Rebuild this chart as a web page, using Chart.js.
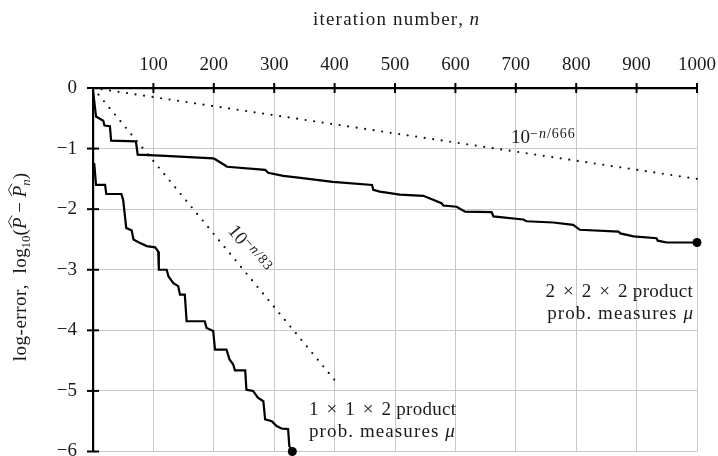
<!DOCTYPE html>
<html>
<head>
<meta charset="utf-8">
<script src="https://cdn.jsdelivr.net/npm/chart.js@4/dist/chart.umd.min.js"></script>
<style>
	html, body { margin: 0; padding: 0; background: #fff; }
	#wrap { width: 718px; height: 456px; position: relative; }
</style>
</head>
<body>
<div id="wrap"><canvas id="chart"></canvas></div>
<script>
// 2 x 2 x 2 product measures
const n222 = [0, 5, 10, 17, 19, 28, 30, 71, 74, 120, 199, 203, 219, 222, 285, 290, 315, 340, 397, 462, 464, 475, 508, 547, 577, 580, 602, 616, 660, 663, 712, 718, 762, 795, 806, 870, 873, 895, 933, 935, 950, 1000];
const err222 = [-0.04, -0.47, -0.50, -0.54, -0.62, -0.63, -0.87, -0.88, -1.10, -1.12, -1.16, -1.18, -1.28, -1.30, -1.35, -1.40, -1.45, -1.48, -1.55, -1.60, -1.68, -1.71, -1.76, -1.78, -1.90, -1.94, -1.96, -2.04, -2.05, -2.12, -2.17, -2.20, -2.22, -2.26, -2.34, -2.37, -2.40, -2.45, -2.48, -2.52, -2.55, -2.55];

// 1 x 1 x 2 product measures
const n112 = [2, 5, 20, 22, 47, 50, 55, 64, 67, 78, 89, 103, 108, 109, 122, 125, 133, 141, 144, 152, 155, 185, 188, 199, 202, 221, 226, 232, 235, 252, 254, 265, 273, 282, 285, 296, 304, 312, 323, 325, 330];
const err112 = [-1.24, -1.60, -1.60, -1.75, -1.75, -1.85, -2.31, -2.35, -2.50, -2.56, -2.61, -2.63, -2.70, -3.00, -3.00, -3.11, -3.22, -3.27, -3.41, -3.41, -3.85, -3.85, -3.96, -4.01, -4.32, -4.32, -4.48, -4.56, -4.66, -4.66, -4.98, -5.00, -5.11, -5.17, -5.47, -5.50, -5.58, -5.62, -5.63, -5.91, -6.00];

// reference rates (dotted)
const nSlow = [0, 1000];
const errSlow = [0, -1.5];
const nFast = [0, 400];
const errFast = [0, -4.82];

const xTicks = [100, 200, 300, 400, 500, 600, 700, 800, 900, 1000];
const yTicks = [0, -1, -2, -3, -4, -5, -6];

const toPoints = (xs, ys) => xs.map((x, i) => ({ x, y: ys[i] }));

const SERIF = '"Liberation Serif", "Times New Roman", serif';
const font = (size, style = '') => `${style} ${size}px ${SERIF}`.trim();

// width of one run, with optional extra letter spacing
const runWidth = (ctx, r) => {
	ctx.font = r.font;
	const ls = r.ls || 0;
	return ctx.measureText(r.t).width + ls * r.t.length;
};

// draw a run of text pieces; returns total width
const drawRuns = (ctx, runs, x, y, measureOnly = false) => {
	let cx = x;
	runs.forEach((r) => {
		const w = runWidth(ctx, r);
		if (!measureOnly) {
			ctx.font = r.font;
			const yy = y + (r.dy || 0);
			if (r.ls) {
				let px = cx;
				[...r.t].forEach((ch) => {
					ctx.fillText(ch, px, yy);
					px += ctx.measureText(ch).width + r.ls;
				});
			} else {
				ctx.fillText(r.t, cx, yy);
			}
			if (r.hat) {
				ctx.save();
				ctx.lineWidth = 0.9;
				ctx.beginPath();
				ctx.moveTo(cx + 1, y - 14);
				ctx.lineTo(cx + w / 2 + 1.5, y - 17.5);
				ctx.lineTo(cx + w + 2, y - 14);
				ctx.stroke();
				ctx.restore();
			}
		}
		cx += w + (r.gap || 0);
	});
	return cx - x;
};

const powerRuns = (exp) => [
	{ t: '10', font: font(19) },
	{ t: '−', font: font(14), dy: -5, gap: 1 },
	{ t: 'n', font: font(14, 'italic'), dy: -5, gap: 1 },
	{ t: '/' + exp, font: font(14), dy: -5, ls: 1 },
];

const productRuns = (a, b, c) => [
	{ t: a, font: font(19), gap: 8 },
	{ t: '×', font: font(19), gap: 8 },
	{ t: b, font: font(19), gap: 8 },
	{ t: '×', font: font(19), gap: 8 },
	{ t: c + ' product', font: font(19), ls: 0.3 },
];

const measureRuns = [
	{ t: 'prob. measures ', font: font(19), ls: 1.1 },
	{ t: 'μ', font: font(19, 'italic') },
];

const annotations = {
	id: 'annotations',
	afterDraw(chart) {
		const { ctx, chartArea, scales } = chart;
		const xs = scales.x;
		const ys = scales.y;
		ctx.save();
		ctx.fillStyle = '#1a1a1a';
		ctx.textBaseline = 'alphabetic';

		// tick marks crossing the axes
		ctx.strokeStyle = '#000';
		ctx.lineWidth = 2;
		xTicks.forEach((v) => {
			const px = xs.getPixelForValue(v);
			ctx.beginPath();
			ctx.moveTo(px, chartArea.top - 5);
			ctx.lineTo(px, chartArea.top + 5);
			ctx.stroke();
		});
		yTicks.forEach((v) => {
			const py = ys.getPixelForValue(v);
			ctx.beginPath();
			ctx.moveTo(chartArea.left - 6, py);
			ctx.lineTo(chartArea.left + 6, py);
			ctx.stroke();
		});
		ctx.strokeStyle = '#1a1a1a';

		// top title
		const titleRuns = [
			{ t: 'iteration number, ', font: font(19), ls: 1.2 },
			{ t: 'n', font: font(19, 'italic') },
		];
		const tw = drawRuns(ctx, titleRuns, 0, 0, true);
		drawRuns(ctx, titleRuns, 396 - tw / 2, 25);

		// y title (rotated)
		const yRuns = [
			{ t: 'log-error,  log', font: font(19), ls: 0.5 },
			{ t: '10', font: font(13), dy: 4 },
			{ t: '(', font: font(19) },
			{ t: 'P', font: font(19, 'italic'), hat: true },
			{ t: ' − ', font: font(19) },
			{ t: 'P', font: font(19, 'italic'), hat: true },
			{ t: 'n', font: font(13, 'italic'), dy: 4 },
			{ t: ')', font: font(19) },
		];
		ctx.save();
		ctx.translate(26, 267);
		ctx.rotate(-Math.PI / 2);
		const yw = drawRuns(ctx, yRuns, 0, 0, true);
		drawRuns(ctx, yRuns, -yw / 2, 0);
		ctx.restore();

		// 10^{-n/666}
		drawRuns(ctx, powerRuns('666'), 511, 143);

		// 10^{-n/83}, along the dotted line
		const fastRuns = powerRuns('83');
		ctx.save();
		ctx.translate(250, 249);
		ctx.rotate(50 * Math.PI / 180);
		const fw = drawRuns(ctx, fastRuns, 0, 0, true);
		drawRuns(ctx, fastRuns, -fw / 2, 6);
		ctx.restore();

		// series labels
		const label = (lines, x, y, align) => {
			lines.forEach((runs, i) => {
				const w = drawRuns(ctx, runs, 0, 0, true);
				const sx = align === 'right' ? x - w : x;
				drawRuns(ctx, runs, sx, y + i * 22);
			});
		};
		label([productRuns('2', '2', '2'), measureRuns], 693, 297, 'right');
		label([productRuns('1', '1', '2'), measureRuns], 309, 415, 'left');

		ctx.restore();
	},
};

new Chart(document.getElementById('chart'), {
	type: 'line',
	data: {
		datasets: [
			{
				data: toPoints(nSlow, errSlow),
				borderColor: '#111',
				borderWidth: 2.2,
				borderDash: [0, 8.6],
				borderCapStyle: 'round',
				pointRadius: 0,
			},
			{
				data: toPoints(nFast, errFast),
				borderColor: '#111',
				borderWidth: 2.2,
				borderDash: [0, 8.6],
				borderCapStyle: 'round',
				pointRadius: 0,
			},
			{
				data: toPoints(n222, err222),
				borderColor: '#000',
				borderWidth: 2.2,
				pointRadius: 0,
			},
			{
				data: toPoints(n112, err112),
				borderColor: '#000',
				borderWidth: 2.2,
				pointRadius: 0,
			},
			{
				data: [
					{ x: n222[n222.length - 1], y: err222[err222.length - 1] },
					{ x: n112[n112.length - 1], y: err112[err112.length - 1] },
				],
				showLine: false,
				pointRadius: 4.5,
				pointBackgroundColor: '#000',
				pointBorderWidth: 0,
			},
		],
	},
	options: {
		responsive: true,
		maintainAspectRatio: false,
		animation: false,
		clip: false,
		layout: { padding: { top: 0, right: 21, bottom: 4, left: 0 } },
		plugins: {
			legend: { display: false },
			tooltip: { enabled: false },
		},
		scales: {
			x: {
				type: 'linear',
				position: 'top',
				min: 0,
				max: 1000,
				afterFit: (scale) => {
					scale.height = 88;
					scale.paddingLeft = 0;
					scale.paddingRight = 0;
				},
				ticks: {
					stepSize: 100,
					autoSkip: false,
					maxRotation: 0,
					padding: 12,
					color: '#1a1a1a',
					font: { family: SERIF, size: 19 },
					callback: (v) => (v === 0 ? '' : v),
				},
				grid: { color: '#c8c8c8', lineWidth: 1, drawTicks: false },
				border: { display: true, color: '#000', width: 2.2 },
			},
			y: {
				min: -6,
				max: 0,
				afterFit: (scale) => {
					scale.width = 93;
					scale.paddingTop = 0;
					scale.paddingBottom = 0;
				},
				ticks: {
					stepSize: 1,
					padding: 16,
					color: '#1a1a1a',
					font: { family: SERIF, size: 19 },
					callback: (v) => (v === 0 ? '0' : '−' + Math.abs(v)),
				},
				grid: { color: '#c8c8c8', lineWidth: 1, drawTicks: false },
				border: { display: true, color: '#000', width: 2.2 },
			},
		},
	},
	plugins: [annotations],
});
</script>
</body>
</html>
